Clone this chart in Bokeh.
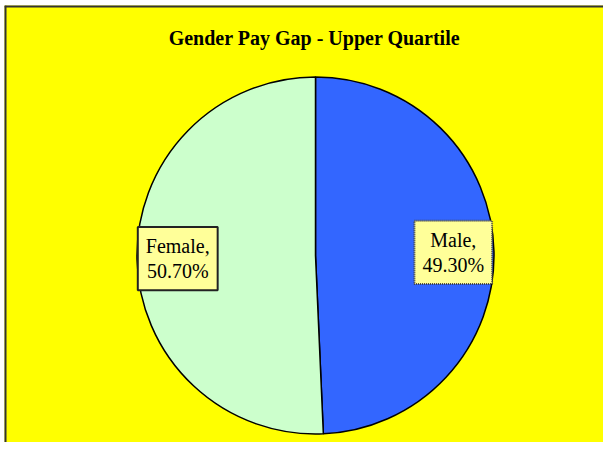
import math
from bokeh.plotting import figure
from bokeh.models import Range1d, Label, Span
from bokeh.embed import file_html
from bokeh.resources import INLINE

title_text = "Gender Pay Gap - Upper Quartile"
categories = ["Male", "Female"]
shares = [49.30, 50.70]
colors = ["#3366FF", "#CCFFCC"]

W, H = 603, 442
p = figure(width=W, height=H, output_backend="svg", toolbar_location=None,
           x_range=Range1d(4, W), y_range=Range1d(0, H - 5),
           min_border_left=4, min_border_top=5, min_border_right=0, min_border_bottom=0,
           background_fill_color="#FFFF00", border_fill_color="white",
           outline_line_color=None)
p.axis.visible = False
p.grid.visible = False

cx, cy, R = 315, 187, 178.5
total = sum(shares)
start = math.pi / 2
starts, ends, mids = [], [], []
for v in shares:
    sweep = 2 * math.pi * v / total
    starts.append(start)
    ends.append(start - sweep)
    mids.append(start - sweep / 2)
    start -= sweep

p.wedge(x=cx, y=cy, radius=R, start_angle=starts, end_angle=ends,
        direction="clock", fill_color=colors, line_color="black", line_width=1.5)

label_style = dict(text_align="center", text_baseline="middle",
                   text_font="Liberation Serif", text_font_size="20px",
                   text_line_height=1.15,
                   padding=dict(left=8, right=8, top=8, bottom=8))

for cat, v, m in zip(categories, shares, mids):
    lx = cx + 0.772 * R * math.cos(m)
    ly = cy + 0.772 * R * math.sin(m)
    txt = f"{cat},\n{v:.2f}%"
    if cat == "Female":
        p.add_layout(Label(x=lx, y=ly, x_offset=3, y_offset=-3, text=txt,
                           text_alpha=0, background_fill_color="#555555",
                           **label_style))
        p.add_layout(Label(x=lx, y=ly, text=txt, text_color="black",
                           background_fill_color="#FFFF99",
                           border_line_color="#222222", border_line_width=2,
                           **label_style))
    else:
        p.add_layout(Label(x=lx, y=ly, text=txt, text_color="black",
                           background_fill_color="#FFFF99",
                           border_line_color="#444444", border_line_width=2,
                           border_line_dash="1 1", **label_style))

p.add_layout(Label(x=314, y=H - 37, text=title_text, text_align="center",
                   text_baseline="alphabetic", text_font="Liberation Serif",
                   text_font_size="20px", text_font_style="bold",
                   text_color="black"))

p.add_layout(Span(location=H - 5, dimension="width", line_color="#333333", line_width=4))
p.add_layout(Span(location=4, dimension="height", line_color="#333333", line_width=4))

open("out.html", "w").write(file_html(p, INLINE))
